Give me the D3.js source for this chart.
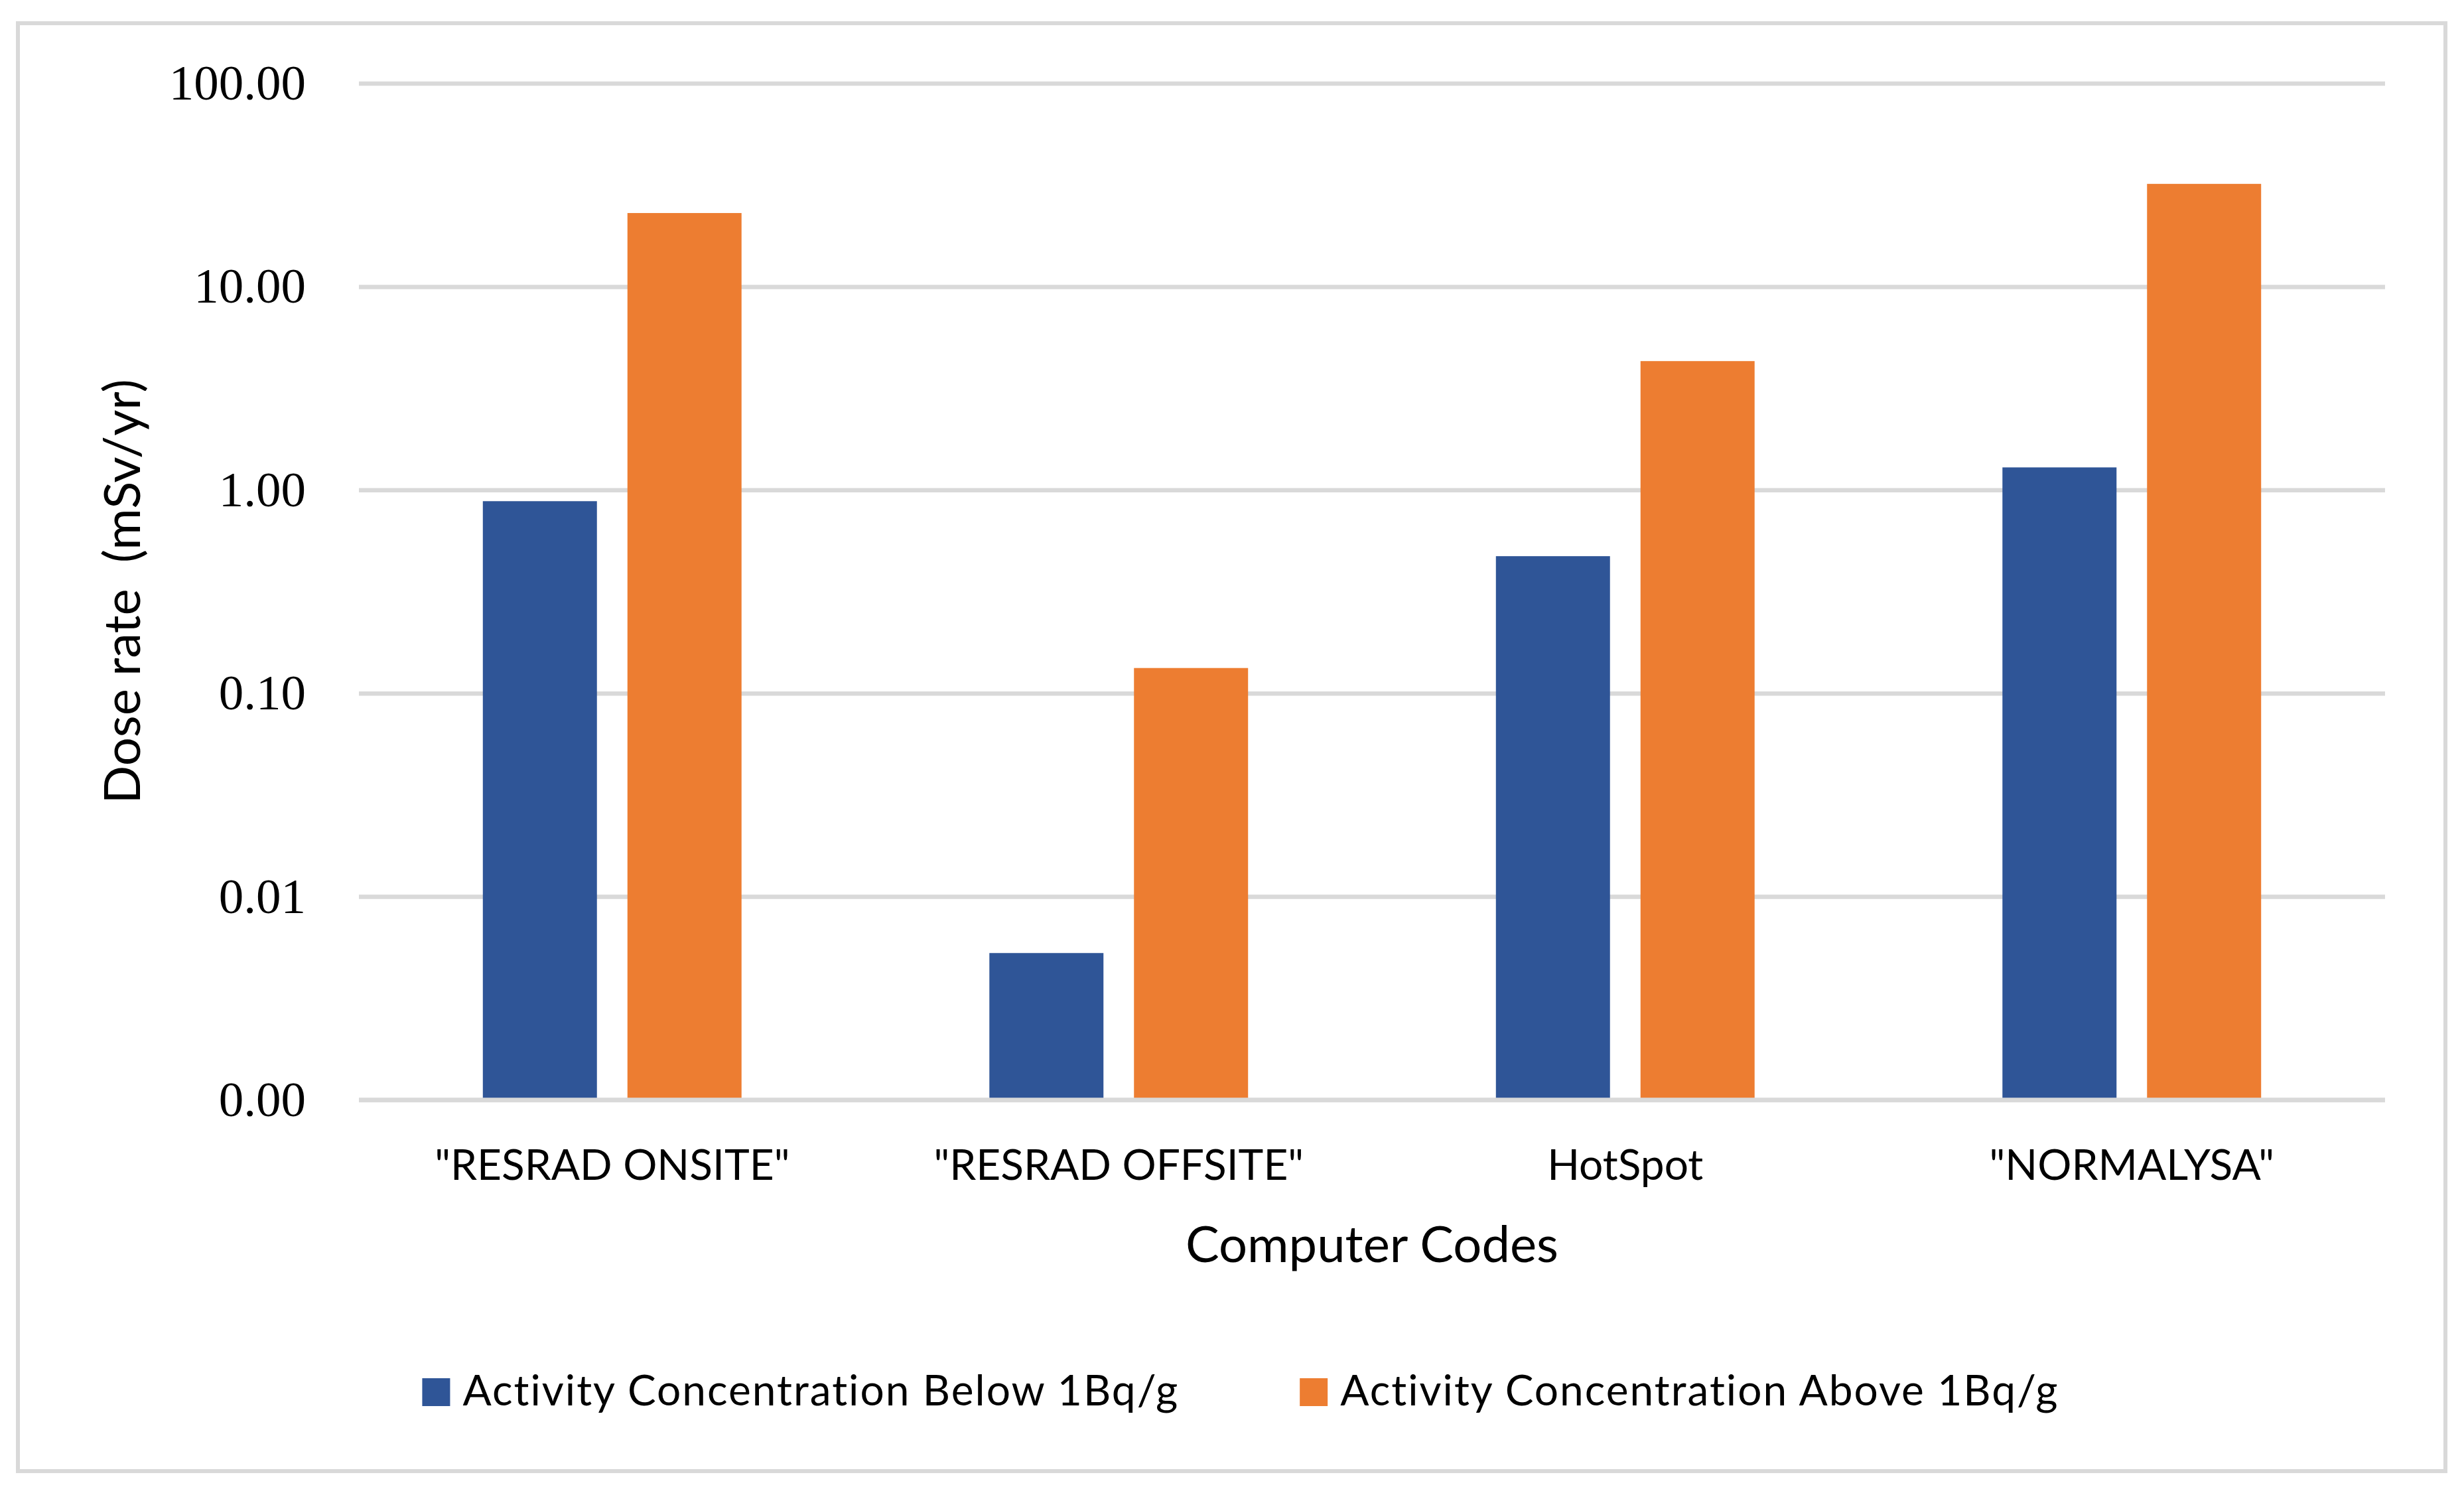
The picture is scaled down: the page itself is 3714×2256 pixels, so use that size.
<!DOCTYPE html>
<html>
<head>
	<script src="https://d3js.org/d3.v7.min.js"></script>
	<meta charset="UTF-8">
	<style>
		body{
			margin: 0;
			background-color: #ffffff;
		}
	</style>
</head>
<body>
	<div class = 'chart'></div>
	<script type="text/javascript">
		var categories = ['"RESRAD ONSITE"', '"RESRAD OFFSITE"', 'HotSpot', '"NORMALYSA"'];
		var seriesNames = ["Activity Concentration Below 1Bq/g", "Activity Concentration Above 1Bq/g"];
		var belowValues = [0.88, 0.00527, 0.472, 1.29];
		var aboveValues = [23.0, 0.133, 4.30, 32.0];
		var yTicks = [0.001, 0.01, 0.1, 1, 10, 100];
		var colors = ["#2F5597", "#ED7D31"];

		var W = 3714, H = 2256;
		var l = 541, r = 3595, t = 125.5, b = 1657.4;
		var sans = "Lato, 'Open Sans', sans-serif";

		var svg = d3.select("div.chart")
					.append("svg")
					.attr("width", W)
					.attr("height", H);

		svg.append("rect").attr("width", W).attr("height", H).attr("fill", "#ffffff");

		//outer border
		svg.append("rect")
		   .attr("x", 27).attr("y", 35)
		   .attr("width", 3659).attr("height", 2182)
		   .attr("fill", "none")
		   .attr("stroke", "#d9d9d9")
		   .attr("stroke-width", 6);

		var x0 = d3.scaleBand()
					.domain(categories)
					.range([l, r])
					.padding(0);

		var x1 = d3.scaleBand()
					.domain(seriesNames)
					.range([0, x0.bandwidth()])
					.paddingInner(0.211)
					.paddingOuter(0.857);

		var y = d3.scaleLog()
					.domain([0.001, 100])
					.range([b, t]);

		//gridlines
		var grid = svg.append("g")
					  .attr("transform", "translate(" + l + ",0)")
					  .call(d3.axisLeft(y).tickValues(yTicks).tickSize(-(r - l)).tickFormat(""));
		grid.select(".domain").remove();
		grid.selectAll("line").attr("stroke", "#d9d9d9").attr("stroke-width", 6.5);

		//bars
		var rows = categories.map(function(c, i) {
			return [{cat: c, s: seriesNames[0], v: belowValues[i]}, {cat: c, s: seriesNames[1], v: aboveValues[i]}];
		});

		svg.append("g")
		   .selectAll("g")
		   .data(rows)
		   .enter()
		   .append("g")
		   .attr("transform", function(d) { return "translate(" + x0(d[0].cat) + ",0)"; })
		   .selectAll("rect")
		   .data(function(d) { return d; })
		   .enter()
		   .append("rect")
		   .attr("x", function(d) { return x1(d.s); })
		   .attr("y", function(d) { return y(d.v); })
		   .attr("width", x1.bandwidth())
		   .attr("height", function(d) { return b - y(d.v); })
		   .attr("fill", function(d, i) { return colors[i]; });

		//baseline over the bars
		svg.append("line")
		   .attr("x1", l).attr("x2", r)
		   .attr("y1", y(0.001)).attr("y2", y(0.001))
		   .attr("stroke", "#d9d9d9").attr("stroke-width", 6.5);

		//y axis labels
		var yAxis = svg.append("g")
					   .attr("transform", "translate(" + l + ",0)")
					   .call(d3.axisLeft(y).tickValues(yTicks).tickSize(0).tickPadding(80).tickFormat(d3.format(".2f")));
		yAxis.select(".domain").remove();
		yAxis.selectAll("text")
			 .attr("font-family", "'Liberation Serif', 'Times New Roman', serif")
			 .attr("font-size", "75px")
			 .attr("fill", "#000000");

		//x axis labels
		var xAxis = svg.append("g")
					   .attr("transform", "translate(0," + b + ")")
					   .call(d3.axisBottom(x0).tickSize(0).tickPadding(75));
		xAxis.select(".domain").remove();
		xAxis.selectAll("text")
			 .attr("font-family", sans)
			 .attr("font-size", "64px")
			 .attr("fill", "#000000");

		//axis titles
		svg.append("text")
		   .attr("x", (l + r) / 2).attr("y", 1902)
		   .attr("text-anchor", "middle")
		   .attr("font-family", sans).attr("font-size", "76px")
		   .text("Computer Codes");

		svg.append("text")
		   .attr("transform", "translate(211," + ((t + b) / 2) + ") rotate(-90)")
		   .attr("text-anchor", "middle")
		   .attr("font-family", sans).attr("font-size", "76px")
		   .attr("xml:space", "preserve")
		   .style("white-space", "pre")
		   .text("Dose rate  (mSv/yr)");

		//legend
		var legend = svg.append("g");
		var items = legend.selectAll("g")
						  .data(seriesNames)
						  .enter()
						  .append("g");
		items.append("rect")
			 .attr("width", 42).attr("height", 42)
			 .attr("y", 2077)
			 .attr("fill", function(d, i) { return colors[i]; });
		items.append("text")
			 .attr("x", 61).attr("y", 2118)
			 .attr("font-family", sans).attr("font-size", "64px")
			 .attr("letter-spacing", "2px")
			 .text(function(d) { return d; });

		var widths = [];
		items.select("text").each(function() { widths.push(61 + this.getComputedTextLength()); });
		var gap = 182;
		var total = widths[0] + gap + widths[1];
		var start = 1870 - total / 2;
		items.attr("transform", function(d, i) {
			return "translate(" + (i == 0 ? start : start + widths[0] + gap) + ",0)";
		});
	</script>
</body>
</html>
